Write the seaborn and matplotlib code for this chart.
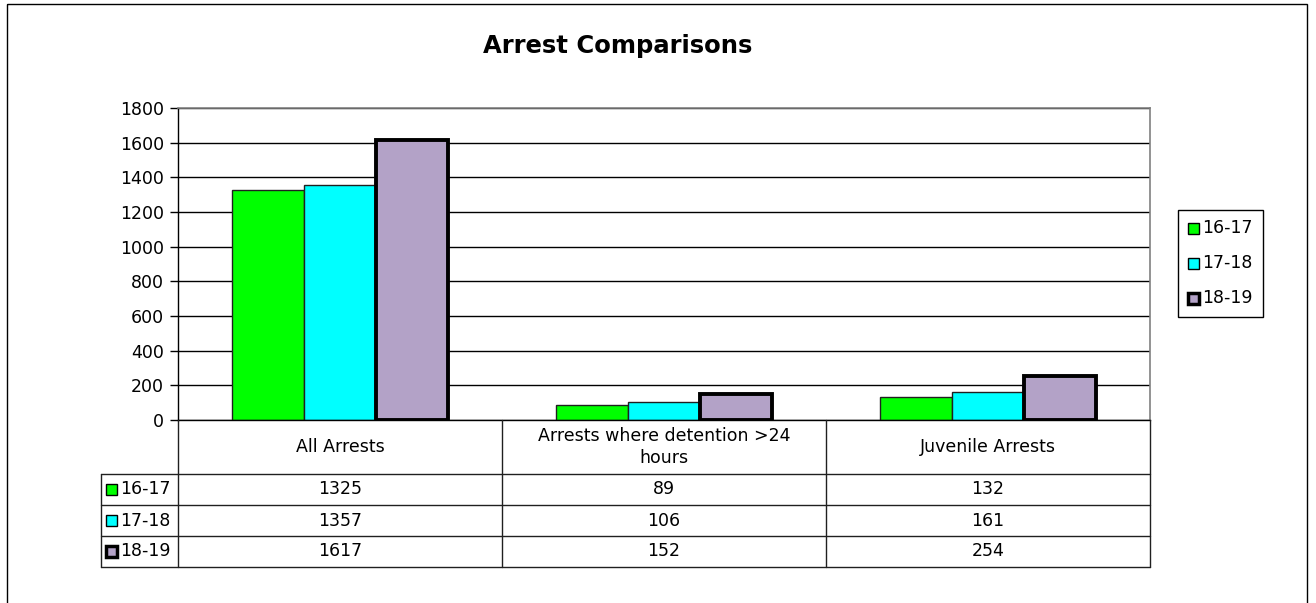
import numpy as np
import pandas as pd
import matplotlib
matplotlib.use('Agg')
import matplotlib.pyplot as plt
import seaborn as sns
from matplotlib.patches import Rectangle

# 데이터
categories = ['All Arrests', 'Arrests where detention >24 hours', 'Juvenile Arrests']
cat_labels = ['All Arrests', 'Arrests where detention >24\nhours', 'Juvenile Arrests']
periods = ['16-17', '17-18', '18-19']
v_1617 = [1325, 89, 132]
v_1718 = [1357, 106, 161]
v_1819 = [1617, 152, 254]
colors = ['#00FF00', '#00FFFF', '#B3A2C7']

sns.set_style('white')
plt.rcParams['font.family'] = ['DejaVu Sans']
plt.rcParams['text.color'] = 'black'
plt.rcParams['ytick.color'] = 'black'
plt.rcParams['ytick.labelcolor'] = 'black'

df = pd.DataFrame({
    'category': categories * 3,
    'period': [p for p in periods for _ in categories],
    'value': v_1617 + v_1718 + v_1819,
})

W, H = 1316, 603
fs = 12.5
fig = plt.figure(figsize=(W / 100, H / 100), dpi=100)
fig.patch.set_facecolor('white')

# 플롯 영역 (픽셀 기준)
x0, x1, ytop, ybot = 178, 1150, 108, 420
ax = fig.add_axes([x0 / W, 1 - ybot / H, (x1 - x0) / W, (ybot - ytop) / H])

sns.barplot(data=df, x='category', y='value', hue='period', palette=colors,
            width=0.667, edgecolor='#202020', linewidth=1.0, ax=ax,
            legend=False, saturation=1, errorbar=None)
for p in ax.containers[2]:
    p.set_linewidth(2.8)
    p.set_edgecolor('black')

ax.set_ylim(0, 1800)
ax.set_yticks(np.arange(0, 1801, 200))
ax.set_xlim(-0.5, 2.5)
ax.set_xticks([])
ax.set_xlabel('')
ax.set_ylabel('')
ax.yaxis.grid(True, color='black', linewidth=1)
ax.set_axisbelow(True)
ax.tick_params(axis='y', labelsize=fs, length=6, width=1, color='black', left=True, pad=4)
for s in ['top', 'right']:
    ax.spines[s].set_color('#808080')
    ax.spines[s].set_linewidth(1.2)
for s in ['left', 'bottom']:
    ax.spines[s].set_color('black')
    ax.spines[s].set_linewidth(1)

# 오버레이 (표, 제목, 범례, 테두리)
ov = fig.add_axes([0, 0, 1, 1], zorder=5)
ov.set_xlim(0, W)
ov.set_ylim(H, 0)
ov.axis('off')
ov.patch.set_alpha(0)

ov.add_patch(Rectangle((7, 4), 1300, 610, fill=False, edgecolor='black', linewidth=1))
ov.text(618, 46, 'Arrest Comparisons', ha='center', va='center',
        fontsize=17.5, fontweight='bold')

lc = '#202020'
col_x = [178, 502, 826, 1150]
row_y = [474, 505, 536, 567]
for y in row_y:
    ov.plot([101, 1150], [y, y], color=lc, lw=1)
ov.plot([101, 101], [474, 567], color=lc, lw=1)
for x in col_x:
    ov.plot([x, x], [420, 567], color=lc, lw=1)

for i, lab in enumerate(cat_labels):
    cx = (col_x[i] + col_x[i + 1]) / 2
    ov.text(cx, 447, lab, ha='center', va='center', fontsize=fs, linespacing=1.25)

rows = [v_1617, v_1718, v_1819]
for r, (name, vals) in enumerate(zip(periods, rows)):
    cy = (row_y[r] + row_y[r + 1]) / 2
    lw = 2.5 if r == 2 else 1
    ov.add_patch(Rectangle((106, cy - 5.5), 11, 11, facecolor=colors[r],
                           edgecolor='black', linewidth=lw))
    ov.text(120, cy, name, ha='left', va='center', fontsize=fs)
    for i, v in enumerate(vals):
        cx = (col_x[i] + col_x[i + 1]) / 2
        ov.text(cx, cy, str(v), ha='center', va='center', fontsize=fs)

# 범례
ov.add_patch(Rectangle((1178, 210), 85, 107, fill=False, edgecolor='black', linewidth=1))
for r, name in enumerate(periods):
    cy = 228 + r * 35
    lw = 2.5 if r == 2 else 1
    ov.add_patch(Rectangle((1188, cy - 5.5), 11, 11, facecolor=colors[r],
                           edgecolor='black', linewidth=lw))
    ov.text(1202, cy, name, ha='left', va='center', fontsize=fs)

fig.savefig('out.png', dpi=100)
